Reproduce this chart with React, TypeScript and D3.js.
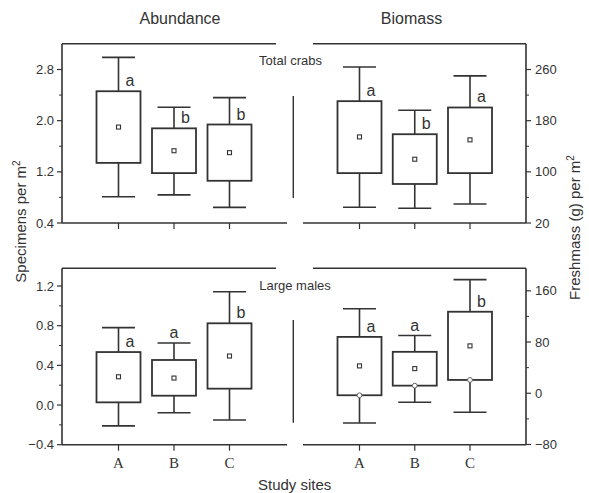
import React from "react";
import * as d3 from "d3";

// ---- data ----
const sites = ["A", "B", "C"];

const totalAbundMin = [0.81, 0.84, 0.645];
const totalAbundQ1 = [1.34, 1.18, 1.06];
const totalAbundQ3 = [2.46, 1.88, 1.94];
const totalAbundMax = [2.99, 2.21, 2.36];
const totalAbundMean = [1.9, 1.53, 1.5];
const totalAbundLetters = ["a", "b", "b"];

const totalBioMin = [44.6, 43, 49.7];
const totalBioQ1 = [98, 81, 98];
const totalBioQ3 = [210.5, 158.8, 200.6];
const totalBioMax = [264, 196.4, 250];
const totalBioMean = [154.6, 119.7, 150];
const totalBioLetters = ["a", "b", "a"];

const largeAbundMin = [-0.21, -0.078, -0.151];
const largeAbundQ1 = [0.027, 0.094, 0.165];
const largeAbundQ3 = [0.534, 0.454, 0.824];
const largeAbundMax = [0.78, 0.625, 1.142];
const largeAbundMean = [0.285, 0.272, 0.494];
const largeAbundLetters = ["a", "a", "b"];

const largeBioMin = [-46.5, -14, -29.7];
const largeBioQ1 = [-3.1, 11.9, 20.8];
const largeBioQ3 = [88, 64.7, 127.3];
const largeBioMax = [132, 90.2, 177.4];
const largeBioMean = [42.7, 38.5, 74];
const largeBioMedian = [-3.1, 11.9, 20.8];
const largeBioLetters = ["a", "a", "b"];

const largeLetterAbove = [false, true, false];

const totalAbundTicks = [0.4, 1.2, 2.0, 2.8];
const totalAbundMinor = [0.8, 1.6, 2.4];
const totalBioTicks = [20, 100, 180, 260];
const totalBioMinor = [60, 140, 220];
const largeAbundTicks = [-0.4, 0.0, 0.4, 0.8, 1.2];
const largeAbundMinor = [-0.2, 0.2, 0.6, 1.0];
const largeBioTicks = [-80, 0, 80, 160];
const largeBioMinor = [-40, 40, 120];

// ---- styles ----
const INK = "#333";
const SW = 1.6;
const SANS = "'Liberation Sans', Arial, sans-serif";
const SERIF = "'Liberation Serif', 'Times New Roman', serif";

type Panel = {
  min: number[]; q1: number[]; q3: number[]; max: number[]; mean: number[];
  median?: number[]; letters: string[]; above?: boolean[];
  ticks: number[]; minor: number[]; fmt: (v: number) => string;
  side: "left" | "right";
  y: d3.ScaleLinear<number, number>;
  x: d3.ScalePoint<string>;
  axisX: number; frameTop: number; bottom: number;
  topLine: [number, number]; bottomLine: [number, number];
  showSiteLabels: boolean;
};

const BOX_W = 44;
const CAP_W = 33;

function PanelView({ p }: { p: Panel }) {
  const { y, x } = p;
  const dir = p.side === "left" ? -1 : 1;
  return (
    <g>
      {/* frame lines */}
      <line x1={p.topLine[0]} x2={p.topLine[1]} y1={p.frameTop} y2={p.frameTop} stroke={INK} strokeWidth={SW} />
      <line x1={p.bottomLine[0]} x2={p.bottomLine[1]} y1={p.bottom} y2={p.bottom} stroke={INK} strokeWidth={SW} />
      <line x1={p.axisX} x2={p.axisX} y1={p.frameTop} y2={p.bottom} stroke={INK} strokeWidth={SW} />
      {/* y ticks */}
      {p.ticks.map((t) => (
        <g key={"t" + t}>
          <line x1={p.axisX} x2={p.axisX + dir * 5} y1={y(t)} y2={y(t)} stroke={INK} strokeWidth={1.2} />
          <text
            x={p.side === "left" ? p.axisX - 8 : p.axisX + 9}
            y={y(t) + 4.6}
            textAnchor={p.side === "left" ? "end" : "start"}
            fontFamily={SANS}
            fontSize={13}
            fill={INK}
          >
            {p.fmt(t)}
          </text>
        </g>
      ))}
      {p.minor.map((t) => (
        <line key={"m" + t} x1={p.axisX} x2={p.axisX + dir * 3} y1={y(t)} y2={y(t)} stroke={INK} strokeWidth={1} />
      ))}
      {/* x ticks */}
      {sites.map((s) => (
        <g key={"x" + s}>
          <line x1={x(s)!} x2={x(s)!} y1={p.bottom} y2={p.bottom + 6} stroke={INK} strokeWidth={1.2} />
          {p.showSiteLabels && (
            <text x={x(s)!} y={p.bottom + 23.5} textAnchor="middle" fontFamily={SERIF} fontSize={15} fill={INK}>
              {s}
            </text>
          )}
        </g>
      ))}
      {/* boxes */}
      {sites.map((s, i) => {
        const cx = x(s)!;
        const above = p.above ? p.above[i] : false;
        return (
          <g key={"b" + s}>
            <line x1={cx} x2={cx} y1={y(p.max[i])} y2={y(p.q3[i])} stroke={INK} strokeWidth={SW} />
            <line x1={cx} x2={cx} y1={y(p.q1[i])} y2={y(p.min[i])} stroke={INK} strokeWidth={SW} />
            <line x1={cx - CAP_W / 2} x2={cx + CAP_W / 2} y1={y(p.max[i])} y2={y(p.max[i])} stroke={INK} strokeWidth={SW} />
            <line x1={cx - CAP_W / 2} x2={cx + CAP_W / 2} y1={y(p.min[i])} y2={y(p.min[i])} stroke={INK} strokeWidth={SW} />
            <rect
              x={cx - BOX_W / 2}
              y={y(p.q3[i])}
              width={BOX_W}
              height={y(p.q1[i]) - y(p.q3[i])}
              fill="white"
              stroke={INK}
              strokeWidth={SW + 0.2}
            />
            {p.median && (
              <circle cx={cx} cy={y(p.median[i])} r={2.4} fill="white" stroke="#666" strokeWidth={1} />
            )}
            <rect x={cx - 2} y={y(p.mean[i]) - 2} width={4} height={4} fill="white" stroke={INK} strokeWidth={1.1} />
            <text
              x={above ? cx : cx + 7}
              y={above ? y(p.max[i]) - 5 : y(p.q3[i]) - 5}
              textAnchor={above ? "middle" : "start"}
              fontFamily={SANS}
              fontSize={16}
              fill={INK}
            >
              {p.letters[i]}
            </text>
          </g>
        );
      })}
    </g>
  );
}

export default function App() {
  const xLeft = d3.scalePoint<string>().domain(sites).range([118.5, 229.5]);
  const xRight = d3.scalePoint<string>().domain(sites).range([359.5, 470]);

  const f1 = d3.format(".1f");
  const f0 = d3.format("d");

  const panels: Panel[] = [
    {
      min: totalAbundMin, q1: totalAbundQ1, q3: totalAbundQ3, max: totalAbundMax, mean: totalAbundMean,
      letters: totalAbundLetters, ticks: totalAbundTicks, minor: totalAbundMinor, fmt: f1, side: "left",
      y: d3.scaleLinear().domain([0.4, 2.8]).range([223, 69.5]), x: xLeft,
      axisX: 62, frameTop: 43.7, bottom: 223, topLine: [62, 276], bottomLine: [62, 287], showSiteLabels: false,
    },
    {
      min: totalBioMin, q1: totalBioQ1, q3: totalBioQ3, max: totalBioMax, mean: totalBioMean,
      letters: totalBioLetters, ticks: totalBioTicks, minor: totalBioMinor, fmt: f0, side: "right",
      y: d3.scaleLinear().domain([20, 260]).range([223, 69.5]), x: xRight,
      axisX: 526, frameTop: 43.7, bottom: 223, topLine: [313, 526], bottomLine: [303, 526], showSiteLabels: false,
    },
    {
      min: largeAbundMin, q1: largeAbundQ1, q3: largeAbundQ3, max: largeAbundMax, mean: largeAbundMean,
      letters: largeAbundLetters, above: largeLetterAbove, ticks: largeAbundTicks, minor: largeAbundMinor, fmt: f1,
      side: "left",
      y: d3.scaleLinear().domain([-0.4, 1.2]).range([444.7, 286]), x: xLeft,
      axisX: 62, frameTop: 268.3, bottom: 444.7, topLine: [62, 276], bottomLine: [62, 287], showSiteLabels: true,
    },
    {
      min: largeBioMin, q1: largeBioQ1, q3: largeBioQ3, max: largeBioMax, mean: largeBioMean, median: largeBioMedian,
      letters: largeBioLetters, above: largeLetterAbove, ticks: largeBioTicks, minor: largeBioMinor, fmt: f0,
      side: "right",
      y: d3.scaleLinear().domain([-80, 160]).range([444.5, 290.8]), x: xRight,
      axisX: 526, frameTop: 268.3, bottom: 444.7, topLine: [313, 526], bottomLine: [303, 526], showSiteLabels: true,
    },
  ];

  return (
    <svg
      width={589}
      height={493}
      style={{ position: "absolute", left: 0, top: 0, background: "white" }}
    >
      <rect x={0} y={0} width={589} height={493} fill="white" />
      <text x={180} y={24} textAnchor="middle" fontFamily={SANS} fontSize={16} fill={INK}>Abundance</text>
      <text x={411.5} y={24} textAnchor="middle" fontFamily={SANS} fontSize={16} fill={INK}>Biomass</text>
      <text x={290.5} y={64.5} textAnchor="middle" fontFamily={SANS} fontSize={13} fill={INK}>Total crabs</text>
      <text x={295} y={289.5} textAnchor="middle" fontFamily={SANS} fontSize={13} fill={INK}>Large males</text>
      <text x={294.7} y={490} textAnchor="middle" fontFamily={SANS} fontSize={15} fill={INK}>Study sites</text>
      <line x1={293.3} x2={293.3} y1={96} y2={198} stroke={INK} strokeWidth={1.4} />
      <line x1={293.3} x2={293.3} y1={320} y2={422.7} stroke={INK} strokeWidth={1.4} />
      <text
        transform="translate(25.5,221.5) rotate(-90)"
        textAnchor="middle"
        fontFamily={SANS}
        fontSize={15}
        fill={INK}
      >
        Specimens per m<tspan dy={-6} fontSize={10}>2</tspan>
      </text>
      <text
        transform="translate(580,227.5) rotate(-90)"
        textAnchor="middle"
        fontFamily={SANS}
        fontSize={15}
        fill={INK}
      >
        Freshmass (g) per m<tspan dy={-6} fontSize={10}>2</tspan>
      </text>
      {panels.map((p, i) => (
        <PanelView key={i} p={p} />
      ))}
    </svg>
  );
}
